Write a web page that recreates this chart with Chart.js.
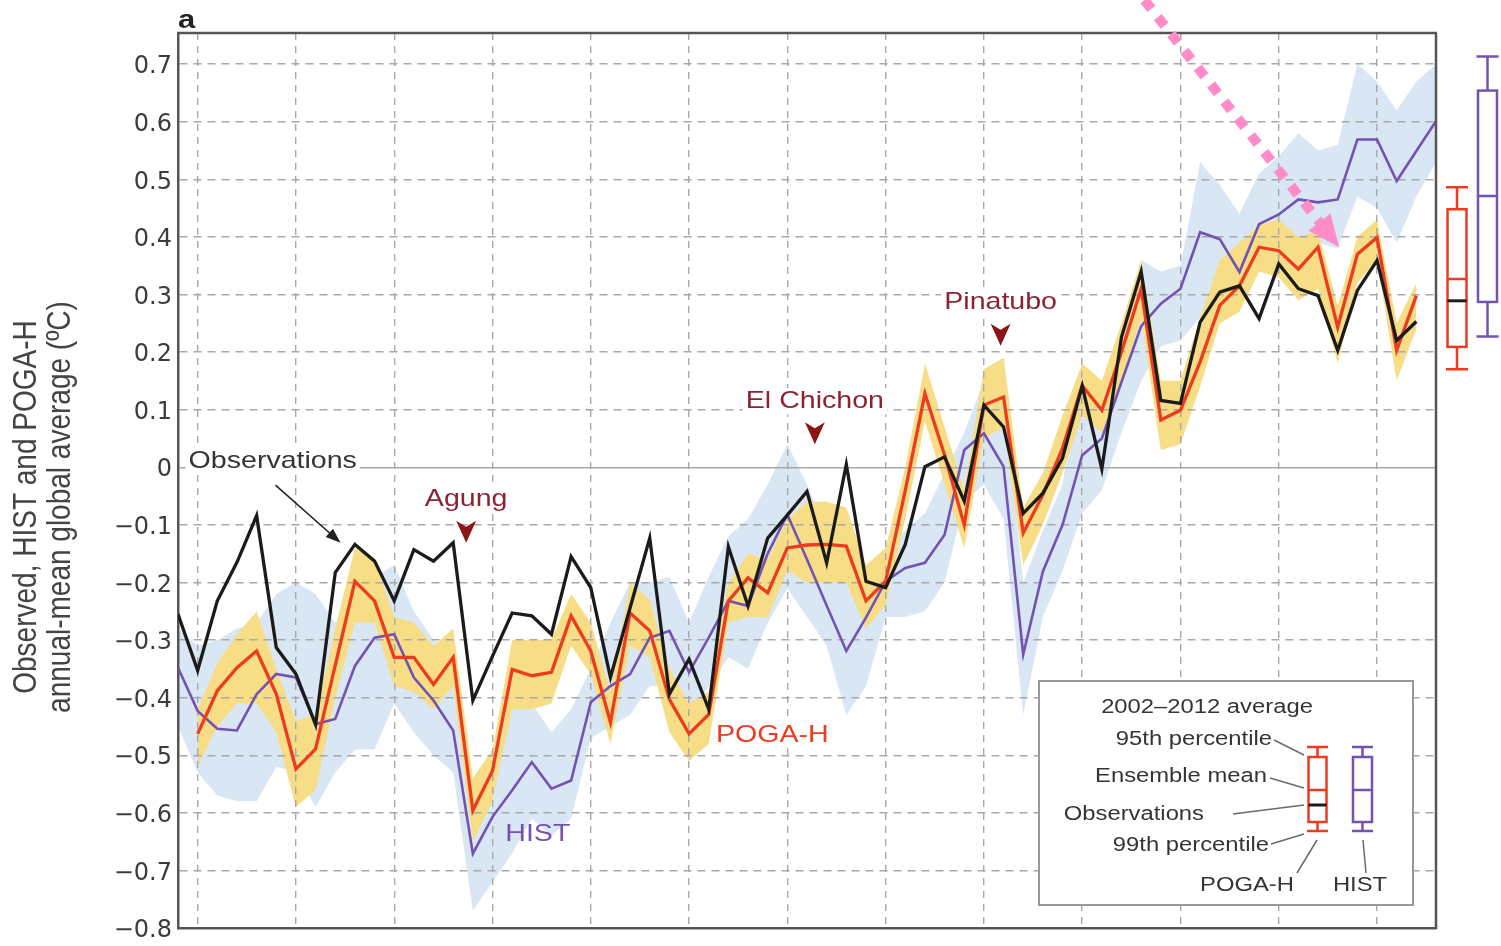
<!DOCTYPE html>
<html>
<head>
<meta charset="utf-8">
<title>Observed, HIST and POGA-H global mean temperature</title>
<script src="https://cdn.jsdelivr.net/npm/chart.js@4/dist/chart.umd.min.js"></script>
<style>
  html, body { margin: 0; padding: 0; background: #ffffff; }
  #wrap { width: 1501px; height: 946px; position: relative; }
</style>
</head>
<body>
<div id="wrap"><canvas id="chart" width="1501" height="946"></canvas></div>
<script>
// ---- data (annual-mean global average anomaly, °C) ----
const years = [1949,1950,1951,1952,1953,1954,1955,1956,1957,1958,
  1959,1960,1961,1962,1963,1964,1965,1966,1967,1968,
  1969,1970,1971,1972,1973,1974,1975,1976,1977,1978,
  1979,1980,1981,1982,1983,1984,1985,1986,1987,1988,
  1989,1990,1991,1992,1993,1994,1995,1996,1997,1998,
  1999,2000,2001,2002,2003,2004,2005,2006,2007,2008,
  2009,2010,2011,2012,2013];

const observations = [-0.255,-0.353,-0.232,-0.165,-0.084,-0.313,-0.359,-0.447,-0.183,-0.134,
  -0.163,-0.232,-0.143,-0.163,-0.131,-0.405,-0.328,-0.253,-0.258,-0.290,
  -0.155,-0.209,-0.365,-0.244,-0.123,-0.394,-0.333,-0.420,-0.138,-0.241,
  -0.123,-0.083,-0.042,-0.166,0.005,-0.198,-0.209,-0.134,0.001,0.018,
  -0.059,0.108,0.070,-0.080,-0.045,0.016,0.141,-0.003,0.226,0.340,
  0.116,0.111,0.252,0.304,0.315,0.258,0.353,0.310,0.298,0.203,
  0.307,0.359,0.220,0.253,null];

const pogaH = [null,-0.463,-0.388,-0.348,-0.319,-0.394,-0.524,-0.489,-0.344,-0.198,
  -0.232,-0.330,-0.330,-0.377,-0.330,-0.596,-0.527,-0.351,-0.362,-0.356,
  -0.258,-0.319,-0.443,-0.253,-0.284,-0.403,-0.463,-0.429,-0.232,-0.192,
  -0.218,-0.140,-0.135,-0.134,-0.137,-0.232,-0.198,-0.040,0.128,0.021,
  -0.100,0.108,0.122,-0.114,-0.048,0.033,0.142,0.099,0.200,0.310,
  0.082,0.099,0.183,0.281,0.315,0.382,0.376,0.344,0.382,0.243,
  0.370,0.399,0.203,0.298,null];

const pogaHHigh = [null,-0.42,-0.34,-0.29,-0.25,-0.35,-0.44,-0.43,-0.28,-0.14,
  -0.16,-0.26,-0.27,-0.31,-0.28,-0.54,-0.49,-0.30,-0.30,-0.30,
  -0.22,-0.27,-0.39,-0.20,-0.23,-0.35,-0.41,-0.39,-0.20,-0.15,
  -0.16,-0.09,-0.06,-0.06,-0.07,-0.17,-0.14,0.00,0.18,0.07,
  -0.04,0.17,0.19,-0.07,-0.01,0.09,0.18,0.15,0.25,0.36,
  0.15,0.15,0.26,0.36,0.39,0.42,0.43,0.40,0.41,0.28,
  0.40,0.43,0.25,0.32,null];

const pogaHLow = [null,-0.52,-0.45,-0.41,-0.41,-0.46,-0.59,-0.56,-0.40,-0.27,
  -0.27,-0.38,-0.39,-0.42,-0.38,-0.65,-0.58,-0.42,-0.42,-0.41,
  -0.31,-0.36,-0.48,-0.31,-0.33,-0.46,-0.51,-0.48,-0.27,-0.26,
  -0.26,-0.18,-0.20,-0.20,-0.20,-0.28,-0.24,-0.09,0.08,-0.03,
  -0.14,0.05,0.07,-0.17,-0.10,-0.01,0.09,0.06,0.15,0.26,
  0.03,0.04,0.14,0.25,0.27,0.34,0.33,0.29,0.31,0.18,
  0.32,0.36,0.15,0.24,null];

const hist = [-0.348,-0.423,-0.454,-0.457,-0.394,-0.359,-0.365,-0.446,-0.437,-0.345,
  -0.296,-0.290,-0.365,-0.405,-0.457,-0.671,-0.607,-0.561,-0.512,-0.558,
  -0.544,-0.408,-0.380,-0.359,-0.296,-0.284,-0.356,-0.296,-0.232,-0.241,
  -0.150,-0.082,-0.160,-0.240,-0.319,-0.261,-0.198,-0.175,-0.166,-0.117,
  0.030,0.059,0.001,-0.325,-0.181,-0.100,0.021,0.050,0.148,0.245,
  0.284,0.310,0.408,0.396,0.339,0.422,0.439,0.465,0.460,0.465,
  0.569,0.569,0.497,0.549,0.601];

const histHigh = [-0.28,-0.31,-0.30,-0.28,-0.27,-0.22,-0.20,-0.22,-0.27,-0.24,
  -0.19,-0.17,-0.25,-0.30,-0.32,-0.58,-0.54,-0.42,-0.41,-0.46,
  -0.42,-0.35,-0.27,-0.20,-0.20,-0.19,-0.27,-0.19,-0.12,-0.09,
  -0.03,0.04,-0.03,-0.11,-0.20,-0.19,-0.14,-0.11,-0.08,-0.01,
  0.06,0.15,0.13,-0.20,-0.11,-0.03,0.18,0.13,0.23,0.36,
  0.34,0.35,0.53,0.49,0.44,0.51,0.54,0.58,0.55,0.56,
  0.70,0.67,0.62,0.67,0.70];

const histLow = [-0.45,-0.53,-0.57,-0.58,-0.58,-0.52,-0.53,-0.59,-0.53,-0.49,
  -0.49,-0.41,-0.46,-0.50,-0.53,-0.77,-0.72,-0.67,-0.61,-0.64,
  -0.61,-0.47,-0.45,-0.43,-0.38,-0.38,-0.44,-0.38,-0.33,-0.35,
  -0.27,-0.21,-0.26,-0.31,-0.43,-0.38,-0.26,-0.26,-0.25,-0.20,
  -0.06,-0.03,-0.09,-0.43,-0.26,-0.18,-0.08,-0.04,0.06,0.15,
  0.21,0.22,0.26,0.25,0.29,0.34,0.36,0.40,0.39,0.38,
  0.47,0.45,0.39,0.47,0.53];

// 2002–2012 averages: whisker caps, box edges and ensemble mean per experiment
const boxNames    = ['POGA-H', 'HIST'];
const boxCapHigh  = [0.486, 0.713];
const boxHigh     = [0.448, 0.654];
const boxMean     = [0.327, 0.471];
const boxLow      = [0.209, 0.287];
const boxCapLow   = [0.170, 0.227];
const observedAverage = 0.289;

// volcanic eruptions: name, year and the value the marker points at
const volcanoNames = ['Agung', 'El Chichon', 'Pinatubo'];
const volcanoYears = [1963.66, 1981.40, 1990.85];
const volcanoTips  = [-0.131, 0.040, 0.211];

const yTicks = [-0.8,-0.7,-0.6,-0.5,-0.4,-0.3,-0.2,-0.1,0,0.1,0.2,0.3,0.4,0.5,0.6,0.7];
const xTicks = [1950,1955,1960,1965,1970,1975,1980,1985,1990,1995,2000,2005,2010];

// ---- styling ----
const RED = '#ec3b1f', PURPLE = '#7352b2', BLACK = '#1b1b1b';
const YELLOW = '#f6dd86', BLUE = '#d9e7f5';
const VOLCANO = '#8a2433', VOLCANO_MARK = '#8b1616';
const TEXT = '#353535', GRID = '#a8a8a8', FRAME = '#555555';
const SANS = '"Liberation Sans", Arial, Helvetica, sans-serif';
const WIDE = 1.19; // horizontal stretch of the lettering

const pts = arr => years.map((x, i) => ({ x, y: arr[i] }));
const fmt = v => (Math.abs(v) < 1e-9 ? '0' : (v < 0 ? '\u2212' : '') + Math.abs(v).toFixed(1));

function text(ctx, str, x, y, o = {}) {
  const size = o.size || 24, align = o.align || 'left';
  ctx.save();
  ctx.font = `${o.weight || 'normal'} ${size}px ${SANS}`;
  const w = ctx.measureText(str).width * WIDE;
  if (o.bg) {
    const x0 = align === 'center' ? x - w / 2 : align === 'right' ? x - w : x;
    ctx.fillStyle = '#ffffff';
    ctx.fillRect(x0 - 3, y - size * 0.55, w + 6, size * 1.1);
  }
  ctx.translate(x, y);
  ctx.scale(WIDE, 1);
  ctx.textAlign = align;
  ctx.textBaseline = o.baseline || 'middle';
  ctx.fillStyle = o.color || TEXT;
  ctx.fillText(str, 0, 0);
  ctx.restore();
}

function line(ctx, x1, y1, x2, y2, color, width, dash) {
  ctx.save();
  ctx.strokeStyle = color; ctx.lineWidth = width;
  ctx.setLineDash(dash || []);
  ctx.beginPath(); ctx.moveTo(x1, y1); ctx.lineTo(x2, y2); ctx.stroke();
  ctx.restore();
}

function arrow(ctx, x1, y1, x2, y2, o) {
  const dx = x2 - x1, dy = y2 - y1, len = Math.hypot(dx, dy);
  const ux = dx / len, uy = dy / len;
  const bx = x2 - ux * o.head, by = y2 - uy * o.head;
  line(ctx, x1, y1, x2 - ux * o.head * 0.85, y2 - uy * o.head * 0.85, o.color, o.width, o.dash);
  ctx.save();
  ctx.fillStyle = o.color;
  ctx.beginPath();
  ctx.moveTo(x2, y2);
  ctx.lineTo(bx - uy * o.half, by + ux * o.half);
  ctx.lineTo(bx + uy * o.half, by - ux * o.half);
  ctx.closePath(); ctx.fill();
  ctx.restore();
}

function boxPlot(ctx, cx, yHiCap, yHi, yMean, yLo, yLoCap, color, half, capHalf, yObs) {
  ctx.save();
  ctx.strokeStyle = color; ctx.lineWidth = 2.5;
  ctx.beginPath();
  ctx.moveTo(cx - capHalf, yHiCap); ctx.lineTo(cx + capHalf, yHiCap);
  ctx.moveTo(cx, yHiCap); ctx.lineTo(cx, yHi);
  ctx.moveTo(cx, yLo); ctx.lineTo(cx, yLoCap);
  ctx.moveTo(cx - capHalf, yLoCap); ctx.lineTo(cx + capHalf, yLoCap);
  ctx.moveTo(cx - half, yMean); ctx.lineTo(cx + half, yMean);
  ctx.stroke();
  ctx.strokeRect(cx - half, yHi, half * 2, yLo - yHi);
  if (yObs !== undefined) {
    ctx.strokeStyle = BLACK; ctx.lineWidth = 3;
    ctx.beginPath(); ctx.moveTo(cx - half, yObs); ctx.lineTo(cx + half, yObs); ctx.stroke();
  }
  ctx.restore();
}

const decorations = {
  id: 'decorations',
  afterDraw(chart) {
    const { ctx, chartArea: a, scales: { x, y } } = chart;
    const px = v => x.getPixelForValue(v), py = v => y.getPixelForValue(v);

    // frame: top and right edges
    line(ctx, a.left - 1, a.top, a.right + 1, a.top, FRAME, 2.5);
    line(ctx, a.right, a.top, a.right, a.bottom + 1, FRAME, 2.5);

    // panel letter
    text(ctx, 'a', a.left, a.top - 5, { size: 26, weight: 'bold', baseline: 'alphabetic', color: '#222' });

    // y-axis title (two rotated lines)
    ctx.save();
    ctx.fillStyle = '#444';
    ctx.font = `28px ${SANS}`;
    ctx.textAlign = 'center'; ctx.textBaseline = 'middle';
    [['Observed, HIST and POGA-H', 27], ['annual-mean global average (\u00baC)', 61]].forEach(([s, cx]) => {
      ctx.save();
      ctx.translate(cx, 507);
      ctx.rotate(-Math.PI / 2);
      ctx.scale(1, WIDE);
      ctx.fillText(s, 0, 0);
      ctx.restore();
    });
    ctx.restore();

    // series labels
    text(ctx, 'Observations', px(1949.54), py(0.010), { bg: true });
    arrow(ctx, px(1953.96), py(-0.031), px(1957.27), py(-0.131), { color: '#222', width: 1.6, head: 15, half: 5.5 });
    text(ctx, 'POGA-H', px(1976.37), py(-0.465), { color: RED, bg: true });
    text(ctx, 'HIST', px(1965.65), py(-0.638), { color: PURPLE });

    // volcanic eruptions
    volcanoNames.forEach((name, i) => {
      const cx = px(volcanoYears[i]), tip = py(volcanoTips[i]);
      text(ctx, name, cx, tip - 43, { color: VOLCANO, align: 'center', bg: true });
      ctx.save();
      ctx.fillStyle = VOLCANO_MARK;
      ctx.beginPath();
      ctx.moveTo(cx, tip);
      ctx.lineTo(cx - 10, tip - 22);
      ctx.lineTo(cx, tip - 16);
      ctx.lineTo(cx + 10, tip - 22);
      ctx.closePath(); ctx.fill();
      ctx.restore();
    });

    // 2002–2012 average box plots beside the panel
    const offsets = [21, 51.5], colors = [RED, PURPLE];
    boxNames.forEach((_, i) => {
      boxPlot(ctx, a.right + offsets[i], py(boxCapHigh[i]), py(boxHigh[i]), py(boxMean[i]),
        py(boxLow[i]), py(boxCapLow[i]), colors[i], 9.5, 11,
        i === 0 ? py(observedAverage) : undefined);
    });

    // key box
    const L = a.right - 397, T = a.bottom - 247, W = 374, H = 224;
    ctx.save();
    ctx.fillStyle = '#ffffff';
    ctx.fillRect(L, T, W, H);
    ctx.strokeStyle = '#999999'; ctx.lineWidth = 2;
    ctx.strokeRect(L, T, W, H);
    ctx.restore();
    const K = 20;
    text(ctx, '2002\u20132012 average', L + 168, T + 26, { size: K, align: 'center' });
    text(ctx, '95th percentile', L + 233, T + 58, { size: K, align: 'right' });
    text(ctx, 'Ensemble mean', L + 228, T + 95, { size: K, align: 'right' });
    text(ctx, 'Observations', L + 165, T + 133, { size: K, align: 'right' });
    text(ctx, '99th percentile', L + 230, T + 164, { size: K, align: 'right' });
    text(ctx, 'POGA-H', L + 208, T + 204, { size: K, align: 'center' });
    text(ctx, 'HIST', L + 321, T + 204, { size: K, align: 'center' });
    const lead = '#6a6a6a';
    line(ctx, L + 235, T + 59, L + 265, T + 74, lead, 1.5);
    line(ctx, L + 231, T + 97, L + 265, T + 107, lead, 1.5);
    line(ctx, L + 194, T + 133, L + 265, T + 124, lead, 1.5);
    line(ctx, L + 232, T + 163, L + 265, T + 153, lead, 1.5);
    line(ctx, L + 258, T + 192, L + 278, T + 159, lead, 1.5);
    line(ctx, L + 327, T + 192, L + 324, T + 159, lead, 1.5);
    boxPlot(ctx, L + 278.5, T + 66, T + 76, T + 109, T + 141, T + 150, RED, 9, 10.5, T + 124);
    boxPlot(ctx, L + 323.5, T + 66, T + 76, T + 109, T + 141, T + 150, PURPLE, 9.5, 10.5);

    // highlighted arrow pointing at the recent POGA-H / observed values
    arrow(ctx, px(1998.17), py(0.811), px(2008.08), py(0.382),
      { color: '#ff8cc8', width: 10, dash: [11, 10.5], head: 32, half: 14 });
  }
};

new Chart(document.getElementById('chart'), {
  type: 'line',
  data: {
    datasets: [
      { label: 'Observations', data: pts(observations), borderColor: BLACK, borderWidth: 3.3, fill: false },
      { label: 'POGA-H', data: pts(pogaH), borderColor: RED, borderWidth: 3.3, fill: false },
      { label: 'HIST', data: pts(hist), borderColor: PURPLE, borderWidth: 2.6, fill: false },
      { label: 'POGA-H low', data: pts(pogaHLow), borderColor: 'transparent', borderWidth: 0, fill: false },
      { label: 'POGA-H high', data: pts(pogaHHigh), borderColor: 'transparent', borderWidth: 0, fill: '-1', backgroundColor: YELLOW },
      { label: 'HIST low', data: pts(histLow), borderColor: 'transparent', borderWidth: 0, fill: false },
      { label: 'HIST high', data: pts(histHigh), borderColor: 'transparent', borderWidth: 0, fill: '-1', backgroundColor: BLUE }
    ]
  },
  options: {
    responsive: false,
    animation: false,
    devicePixelRatio: 1,
    events: [],
    layout: { padding: { left: 0, right: 65, top: 33, bottom: 15 } },
    elements: { point: { radius: 0, hoverRadius: 0 }, line: { tension: 0, borderJoinStyle: 'miter' } },
    plugins: {
      legend: { display: false },
      tooltip: { enabled: false },
      filler: { drawTime: 'beforeDraw' }
    },
    scales: {
      x: {
        type: 'linear', min: 1949, max: 2013,
        afterBuildTicks: s => { s.ticks = xTicks.map(v => ({ value: v })); },
        afterFit: s => { s.height = 0; },
        ticks: { display: false },
        grid: { color: GRID, lineWidth: 1.4, drawTicks: false },
        border: { display: true, color: FRAME, width: 2.5, dash: [7, 6] }
      },
      y: {
        min: -0.8, max: 0.754,
        afterBuildTicks: s => { s.ticks = yTicks.map(v => ({ value: v })); },
        afterFit: s => { s.width = 178; },
        ticks: {
          padding: 6, color: '#3c3c3c', labelOffset: 3,
          font: { family: '"DejaVu Sans", sans-serif', size: 24, lineHeight: 1 },
          callback: v => fmt(v)
        },
        grid: { color: GRID, lineWidth: 1.4, drawTicks: false },
        border: {
          display: true, color: FRAME, width: 2.5,
          dash: c => (c.tick && Math.abs(c.tick.value) < 1e-9 ? [] : [8, 6])
        }
      }
    }
  },
  plugins: [decorations]
});
</script>
</body>
</html>
